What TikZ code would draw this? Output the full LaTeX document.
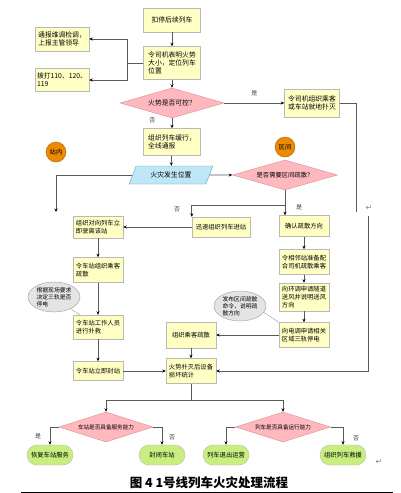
\documentclass[tikz,border=0pt]{standalone}
\usepackage{fontspec}
\newfontfamily\cjk{Noto Sans CJK SC}
\newfontfamily\symf{DejaVu Sans}
\usetikzlibrary{shapes.geometric,shapes.misc,shadows,arrows.meta,calc}
\definecolor{boxyellow}{HTML}{FFFFC4}
\definecolor{dpink}{HTML}{FFB9BE}
\definecolor{dedge}{HTML}{DC8A92}
\definecolor{pblue}{HTML}{BEE6F6}
\definecolor{pedge}{HTML}{6A9CBC}
\definecolor{corange}{HTML}{EC8A00}
\definecolor{tgreen}{HTML}{C8EE80}
\definecolor{egray}{HTML}{E4E4E4}

\begin{document}
\begin{tikzpicture}
  [x=1pt,y=-1pt,
   font=\cjk\fontsize{6.3}{7.6}\selectfont,
   ln/.style={draw=gray!70!black,line width=0.7pt},
   arr/.style={ln,-{Stealth[length=3.5pt,width=3pt,black]}},
   box/.style={draw=gray!55,fill=boxyellow,align=left,inner sep=2pt,minimum width=#1,
     drop shadow={shadow xshift=0.8pt,shadow yshift=-0.8pt,fill=gray!35,opacity=1}},
   box/.default=50pt,
   big/.style={font=\cjk\fontsize{6.8}{8.2}\selectfont},
   dia/.style={diamond,draw=dedge,fill=dpink,aspect=3.4,inner sep=0pt,minimum width=#1,minimum height=30pt},
   term/.style={rounded rectangle,draw=gray!55,fill=tgreen,minimum width=48pt,minimum height=20pt,inner sep=1pt},
   place/.style={circle,draw=corange!70!black,fill=corange,minimum size=20pt,inner sep=0pt},
   note/.style={ellipse,draw=gray!80,fill=egray,align=left,inner sep=0pt,minimum width=52pt,minimum height=30pt,
     font=\cjk\fontsize{5.8}{7}\selectfont},
   lab/.style={font=\cjk\fontsize{6}{7}\selectfont,text=black!75}
  ]
  \useasboundingbox (0,0) rectangle (401,493);

  % main column
  \node[box=57pt,big,minimum height=24pt] (n1) at (172,20) {扣停后续列车};
  \node[box=57pt,big,minimum height=33pt] (n2) at (172,63) {令司机表明火势\\大小，定位列车\\位置};
  \node[box=54pt,big,minimum height=24pt] (l1) at (62,39) {通报维调检调，\\上报主管领导};
  \node[box=54pt,big,minimum height=23pt] (l2) at (62,80) {拨打110、120、\\119};
  \node[dia=104pt,big] (d1) at (172,103) {火势是否可控？};
  \node[box=55pt,big,minimum height=28pt] (r1) at (312,103) {令司机组织乘客\\或车站就地扑灭};
  \node[box=57pt,big,minimum height=27pt] (n3) at (172,142) {组织列车缓行，\\全线通报};
  \node[place] (c1) at (56,152) {站内};
  \node[place] (c2) at (285,147) {区间};
  \node[trapezium,trapezium left angle=70,trapezium right angle=110,trapezium stretches=true,
    draw=pedge,fill=pblue,minimum width=84pt,minimum height=18pt,big] (p1) at (171,175) {火灾发生位置};
  \node[dia=105pt] (d2) at (285,175) {是否需要区间疏散？};

  % left column
  \node[box=50pt,minimum height=22pt] (ll1) at (98,227) {组织对向列车立\\即驶离该站};
  \node[box=50pt,minimum height=25pt] (ll2) at (98,270) {令车站组织乘客\\疏散};
  \node[box=50pt,minimum height=24pt] (ll3) at (98,327) {令车站工作人员\\进行扑救};
  \node[box=50pt,minimum height=19pt] (ll4) at (98,371) {令车站立即封站};
  \node[note] (e1) at (54,297) {根据现场要求\\决定三轨是否\\停电};

  % middle
  \node[box=58pt,minimum height=20pt] (m1) at (221,227) {迅速组织列车进站};
  \node[box=50pt,minimum height=26pt] (mm1) at (191,335) {组织乘客疏散};
  \node[box=50pt,minimum height=25pt] (mm2) at (191,371) {火势扑灭后设备\\损坏统计};

  % right column
  \node[box=50pt,minimum height=21pt] (rr1) at (304,226) {确认疏散方向};
  \node[box=50pt,minimum height=25pt] (rr2) at (304,262) {令相邻站准备配\\合司机疏散乘客};
  \node[box=50pt,minimum height=28pt] (rr3) at (304,297) {向环调申请隧道\\送风并说明送风\\方向};
  \node[box=50pt,minimum height=25pt] (rr4) at (304,335) {向电调申请相关\\区域三轨停电};
  \node[note] (e2) at (240,306) {发布区间疏散\\命令，说明疏\\散方向};

  % bottom
  \node[dia=94pt,font=\cjk\fontsize{5.6}{6.5}\selectfont] (d3) at (106,427) {车站是否具备服务能力};
  \node[dia=95pt,font=\cjk\fontsize{5.6}{6.5}\selectfont] (d4) at (283,427) {列车是否具备运行能力};
  \node[term] (t1) at (50,455) {恢复车站服务};
  \node[term] (t2) at (162,455) {封闭车站};
  \node[term] (t3) at (226,455) {列车退出运营};
  \node[term] (t4) at (343,455) {组织列车救援};

  % straight arrows
  \foreach \a/\b in {n1/n2,n2/d1,n3/p1,p1/d2,m1/ll1,ll1/ll2,ll2/ll3,ll3/ll4,
                     rr1/rr2,rr2/rr3,rr3/rr4,rr4/mm1,mm1/mm2,ll4/mm2}
    \draw[arr] (\a) -- (\b);
  \draw[arr] (d1) -- node[lab,pos=.2,left=13pt]{否} (n3);
  \draw[arr] (d1.east) -- node[lab,above=3pt](yes1){是} (r1.west);

  % split to the left boxes
  \coordinate (sp) at (127,63);
  \draw[ln] (n2.west) -- (sp);
  \foreach \t in {l1,l2}
    \draw[arr] (sp) |- (\t.east);

  % long way round on the right
  \coordinate (brkA) at (356,212);
  \coordinate (brkB) at (368,216);
  \draw[ln] (r1.east) -| (brkA);
  \draw[arr] (brkB) |- (mm2.east);

  % fire position
  \coordinate (inside) at (56,212);
  \draw[arr] (p1.west) -| (inside);
  \coordinate (jn) at (285,205);
  \draw[ln] (d2.south) -- (jn);
  \draw[arr] (jn) -- (jn |- rr1.north);
  \draw[arr] (jn) -| (m1.north west);
  \node[lab] (no2) at (177,209) {否};
  \node[lab] (yes2) at (299,207) {是};

  % callouts
  \draw[gray!80] (e1.-35) -- ($(ll3.north west)+(7,0)$);
  \draw[gray!80] (e2.-15) -- (rr4.north west);

  % bottom branches
  \coordinate (bt) at (191,400);
  \draw[ln] (mm2.south) -- (bt);
  \foreach \t in {d3,d4}
    \draw[arr] (bt) -| (\t.north);
  \draw[arr] (d3.west) -| (t1.north);
  \draw[arr] (d3.east) -| (t2.north);
  \draw[arr] (d4.west) -| (t3.north);
  \draw[arr] (d4.east) -| (t4.north);
  \node[lab] (yes3) at (38,436) {是};
  \node[lab] (no3) at (172,437) {否};
  \node[lab] (no4) at (356,438) {否};

  % marks and caption
  \node[font=\symf\fontsize{8}{9}\selectfont,text=gray] (pm1) at (369,208) {↵};
  \node[font=\symf\fontsize{8}{9}\selectfont,text=gray] (pm2) at (379,462) {↵};
  \node[font=\cjk\bfseries\fontsize{12.5}{14}\selectfont] (cap) at (209,483) {图 4 1号线列车火灾处理流程};
  \coordinate (ulA) at (21,492);
  \coordinate (ulB) at (393,492);
  \draw[line width=0.6pt] (ulA) -- (ulB);
\end{tikzpicture}
\end{document}
